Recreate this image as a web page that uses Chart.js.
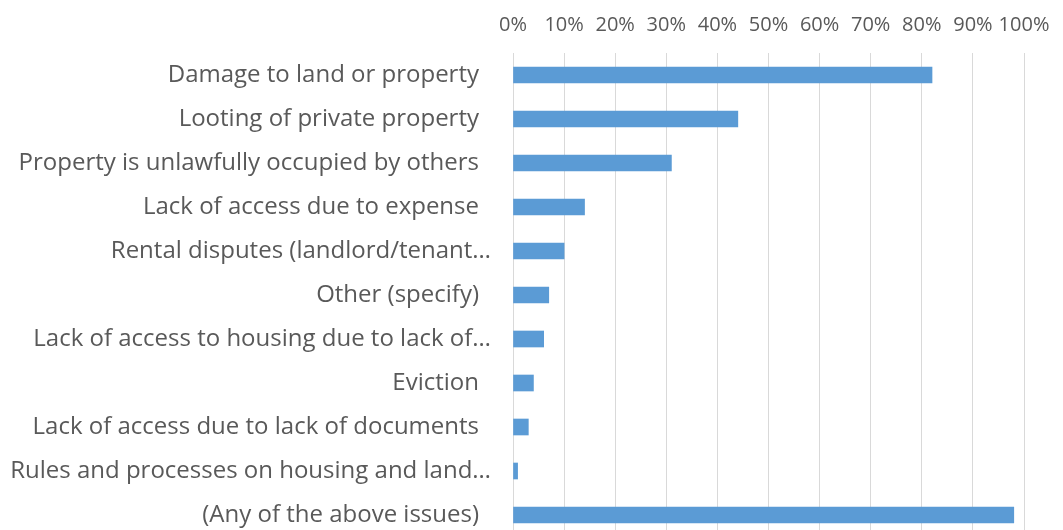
<!DOCTYPE html>
<html>
<head>
<meta charset="utf-8">
<script src="https://cdn.jsdelivr.net/npm/chart.js@4/dist/chart.umd.min.js"></script>
<style>
  html, body { margin: 0; padding: 0; background: #fff; overflow: hidden; }
  #wrap { position: relative; width: 1063px; height: 545px; }
</style>
</head>
<body>
<div id="wrap"><canvas id="c"></canvas></div>
<script>
const categories = [
  "Damage to land or property",
  "Looting of private property",
  "Property is unlawfully occupied by others",
  "Lack of access due to expense",
  "Rental disputes (landlord/tenant…",
  "Other (specify)",
  "Lack of access to housing due to lack of…",
  "Eviction",
  "Lack of access due to lack of documents",
  "Rules and processes on housing and land…",
  "(Any of the above issues)"
];
const values = [82, 44, 31, 14, 10, 7, 6, 4, 3, 0.9, 98];
const xTickMax = 100;
const xTickStep = 10;

const FONT = "'Open Sans', 'Noto Sans', sans-serif";
const TEXT = "#595959";

new Chart(document.getElementById('c'), {
  type: 'bar',
  data: {
    labels: categories,
    datasets: [{
      data: values,
      backgroundColor: '#5B9BD5',
      borderWidth: 0,
      barThickness: 16
    }]
  },
  options: {
    indexAxis: 'y',
    responsive: true,
    maintainAspectRatio: false,
    animation: false,
    layout: { padding: { top: 0, right: 39, bottom: 8, left: 0 } },
    plugins: { legend: { display: false }, tooltip: { enabled: false } },
    scales: {
      x: {
        position: 'top',
        min: 0,
        max: xTickMax,
        afterFit: s => { s.height = 53; s.paddingLeft = 0; s.paddingRight = 0; },
        ticks: {
          stepSize: xTickStep,
          color: TEXT,
          font: { family: FONT, size: 20 },
          padding: 16,
          maxRotation: 0,
          minRotation: 0,
          autoSkip: false,
          callback: v => v + '%'
        },
        grid: { color: '#d9d9d9', lineWidth: 1, drawTicks: false },
        border: { display: false }
      },
      y: {
        afterFit: s => { s.width = 513; s.paddingTop = 0; s.paddingBottom = 0; },
        ticks: {
          color: TEXT,
          font: { family: FONT, size: 24 },
          padding: 14,
          autoSkip: false,
          callback: function(v) {
            const l = this.getLabelForValue(v);
            return l.endsWith('…') ? l : l + '\u2002';
          }
        },
        grid: { display: false },
        border: { display: false }
      }
    }
  }
});
</script>
</body>
</html>
